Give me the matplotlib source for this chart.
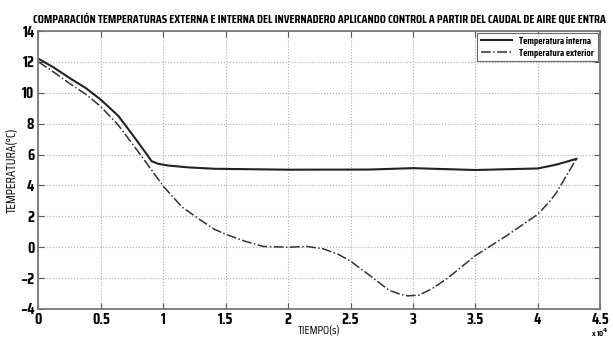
import matplotlib
matplotlib.use("Agg")
import matplotlib.pyplot as plt
from matplotlib import font_manager

# datos (tiempo en unidades de 1e4 s)
t_int = [0.0, 0.12, 0.25, 0.38, 0.5, 0.64, 0.77, 0.86, 0.906, 0.96, 1.04, 1.2, 1.41, 2.0, 2.65, 3.0, 3.5, 4.0, 4.15, 4.31]
T_int = [12.2, 11.65, 10.95, 10.3, 9.55, 8.5, 7.1, 6.1, 5.57, 5.4, 5.29, 5.17, 5.08, 5.02, 5.03, 5.12, 5.0, 5.1, 5.35, 5.72]

t_ext = [0.0, 0.12, 0.25, 0.38, 0.5, 0.64, 0.77, 0.906, 1.0, 1.15, 1.3, 1.41, 1.5, 1.65, 1.8, 2.0, 2.15, 2.28, 2.4, 2.5,
         2.65, 2.73, 2.81, 2.9, 2.96, 3.05, 3.15, 3.27, 3.5, 3.75, 4.0, 4.1, 4.15, 4.22, 4.31]
T_ext = [12.0, 11.35, 10.6, 9.9, 9.1, 7.9, 6.5, 5.0, 3.95, 2.6, 1.75, 1.16, 0.84, 0.4, 0.05, 0.0, 0.05, -0.1, -0.45, -0.9,
         -1.8, -2.3, -2.79, -3.05, -3.15, -3.1, -2.7, -2.05, -0.55, 0.74, 2.13, 3.0, 3.53, 4.5, 5.72]

xticks = [0, 0.5, 1, 1.5, 2, 2.5, 3, 3.5, 4, 4.5]
yticks = [-4, -2, 0, 2, 4, 6, 8, 10, 12, 14]

titulo = 'COMPARACIÓN TEMPERATURAS EXTERNA E INTERNA DEL INVERNADERO APLICANDO CONTROL A PARTIR DEL CAUDAL DE AIRE QUE ENTRA'

# fuente estrecha parecida a la del original
nombres = set(f.name for f in font_manager.fontManager.ttflist)
fuente = 'DejaVu Sans'
for cand in ['Saira Extra Condensed', 'Saira Condensed', 'Barlow Condensed', 'Archivo Narrow']:
    if cand in nombres:
        fuente = cand
        break
plt.rcParams['font.family'] = [fuente, 'DejaVu Sans']
plt.rcParams['font.weight'] = 'bold'

fig = plt.figure(figsize=(6.13, 3.39), dpi=100)
ax = fig.add_axes([0.0628, 0.0885, 0.9162, 0.82])

ax.plot(t_int, T_int, '-', color='#222222', lw=1.5, label='Temperatura interna')
ax.plot(t_ext, T_ext, '-.', color='#333333', lw=1.1, label='Temperatura exterior')

ax.set_xlim(0, 4.5)
ax.set_ylim(-4, 14)
ax.set_xticks(xticks)
ax.set_xticklabels([f"{v:g}" for v in xticks])
ax.set_yticks(yticks)
ax.grid(True, linestyle=':', color='#b0b0b0', lw=0.8)
ax.tick_params(direction='in', top=True, right=True, labelsize=11, length=4, color='#555555', pad=3)
for s in ax.spines.values():
    s.set_color('#777777')
    s.set_linewidth(1.3)

t = ax.set_title(titulo, fontsize=10, fontweight='bold', pad=6)
ax.set_xlabel('TIEMPO(s)', fontsize=8.5, labelpad=-2)
ax.set_ylabel('TEMPERATURA(°C)', fontsize=9.5, labelpad=1)
fig.text(0.993, 0.0, r'x 10$^4$', fontsize=6, ha='right', va='bottom')

leg = ax.legend(loc='upper right', fontsize=7, frameon=True, fancybox=False,
                edgecolor='#444444', borderaxespad=0.25, handlelength=3.2,
                borderpad=0.35, labelspacing=0.3)
leg.get_frame().set_linewidth(0.8)

# ajustar el titulo al ancho del original (~575 px)
fig.canvas.draw()
ancho = t.get_window_extent().width
t.set_fontsize(10 * 575 / ancho)

fig.savefig('out.png', dpi=100)
